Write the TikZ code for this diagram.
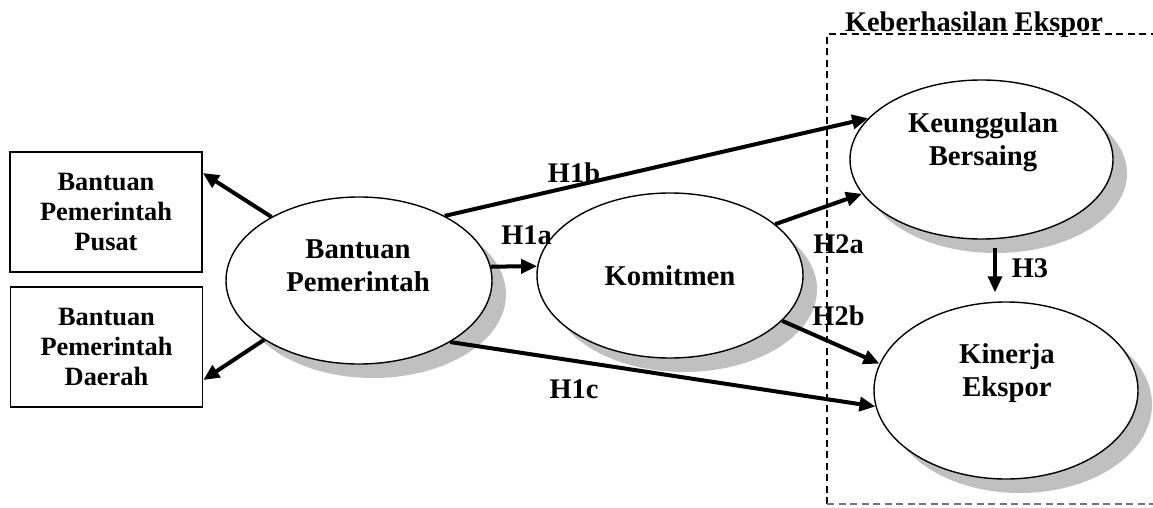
\documentclass[tikz,border=0pt]{standalone}
\usepackage{fontspec}
\setmainfont{Liberation Serif}
\usetikzlibrary{shapes.geometric,arrows.meta,shadows,calc}
\definecolor{shadowgray}{HTML}{C0C0C0}
\begin{document}
\begin{tikzpicture}[x=1pt,y=-1pt,
  ell/.style={ellipse, draw, line width=1.4pt, fill=white, inner sep=0pt,
    general shadow={fill=shadowgray, draw=none, shadow xshift=14pt, shadow yshift=-14pt}},
  etext/.style={font=\bfseries\fontsize{28.7}{33}\selectfont, align=center, inner sep=0pt},
  box/.style={rectangle, draw, line width=1.6pt, minimum width=192pt, minimum height=120pt,
    inner sep=0pt, align=center, font=\bfseries\fontsize{26.4}{30}\selectfont},
  lab/.style={font=\bfseries\fontsize{28.4}{33}\selectfont, inner sep=0pt, anchor=base},
  arr/.style={line width=4pt, -{Triangle[length=16pt,width=14pt]}},
  grp/.style={line width=1.5pt, dash pattern=on 7pt off 4.5pt}
]
\useasboundingbox (0,0) rectangle (1153,508);

% group frame
\coordinate (gtl) at (827,34);
\coordinate (gbl) at (827,504);
\coordinate (gtr) at (1170,34);
\coordinate (gbr) at (1170,504);
\draw[grp] (gbl) -- (gtl) -- (gtr);
\draw[grp, black!55, line width=1.2pt] (gbl) -- (gbr);
\node[lab] (title) at (974,32) {Keberhasilan Ekspor};

% ellipses
\node[ell, minimum width=266pt, minimum height=167pt] (bp) at (359,280.5) {};
\node[ell, minimum width=266pt, minimum height=165pt] (kom) at (670,275.5) {};
\node[ell, minimum width=263pt, minimum height=159pt] (kg) at (981.5,159.5) {};
\node[ell, minimum width=264pt, minimum height=177pt] (ki) at (1006,390.5) {};

\node[etext, anchor=base] (bpt) at (358,291) {Bantuan\\Pemerintah};
\node[etext, anchor=base] (komt) at (670,285) {Komitmen};
\node[etext, anchor=base] (kgt) at (983,165) {Keunggulan\\Bersaing};
\node[etext, anchor=base] (kit) at (1007,396) {Kinerja\\Ekspor};

% boxes
\node[box] (pusat) at (106,212) {Bantuan\\Pemerintah\\Pusat};
\node[box] (daerah) at (106.5,347) {Bantuan\\Pemerintah\\Daerah};

% arrows
\draw[arr] (bp.144.4) -- ([yshift=39pt]pusat.east);
\draw[arr] (bp.212.2) -- ([yshift=-33pt]daerah.east);
\draw[arr] (bp.37.5) -- (kg.160.9);
\draw[arr] (bp.6) -- (kom.176);
\draw[arr] (bp.326.3) -- (ki.187.5);
\draw[arr] (kom.26.3) -- (kg.196.7);
\draw[arr] (kom.338.9) -- (ki.168.3);
\draw[arr, line width=3.2pt] ([xshift=13.5pt,yshift=-8pt]kg.south) -- ([xshift=13.5pt]kg.south |- ki.north) [shorten >=9pt];

% labels
\node[lab] (h1b) at (574,182) {H1b};
\node[lab] (h1a) at (526.5,244) {H1a};
\node[lab] (h1c) at (574,398) {H1c};
\node[lab] (h2a) at (838.5,253) {H2a};
\node[lab] (h2b) at (838.5,325) {H2b};
\node[lab] (h3) at (1030,277) {H3};
\end{tikzpicture}
\end{document}
